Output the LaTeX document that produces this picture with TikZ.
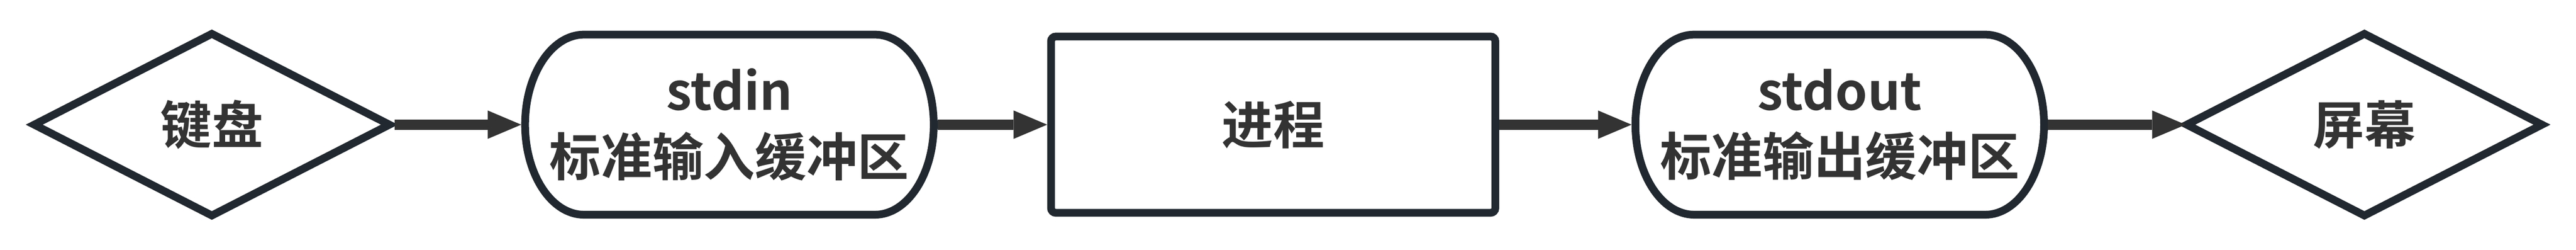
\documentclass[tikz,border=0pt]{standalone}
\usepackage{fontspec}
\usepackage{tikz}
\usetikzlibrary{shapes.geometric,arrows.meta}
\newfontfamily\cnfont{Noto Sans CJK SC}[BoldFont={Noto Sans CJK SC Bold}]
\definecolor{edgecol}{HTML}{21282F}
\definecolor{inkcol}{HTML}{333333}

\begin{document}
\begin{tikzpicture}[
  every node/.style={font=\cnfont\bfseries\fontsize{34}{43.5}\selectfont,text=inkcol,align=center},
  device/.style={diamond,draw=edgecol,line width=0.18cm,minimum width=8.34cm,minimum height=4.30cm,inner sep=0pt},
  buffer/.style={minimum width=9.69cm,minimum height=4.37cm,inner sep=0pt,outer sep=0pt},
  process/.style={rectangle,draw=edgecol,line width=0.18cm,rounded corners=0.11cm,minimum width=10.34cm,minimum height=4.10cm},
  outline/.style={draw=edgecol,line width=0.18cm},
  flow/.style={draw=inkcol,line width=0.24cm,-{Triangle[length=0.78cm,width=0.66cm,line width=0pt,fill=inkcol]}}
]
\useasboundingbox (0,0) rectangle (59.95,5.81);

% Devices and process
\node[device] (key) at (4.93,2.91) {键盘};
\node[process] (proc) at (29.63,2.91) {进程};
\node[device] (screen) at (55.025,2.91) {屏幕};

% Buffers
\node[buffer] (stdin) at (16.975,2.91) {stdin\\标准输入缓冲区};
\node[buffer] (stdout) at (42.815,2.91) {stdout\\标准输出缓冲区};
\foreach \buf in {stdin,stdout}{
\draw[outline] (\buf.north) ++(-3.385,-0.09) -- ++(6.77,0)
  arc[start angle=90,end angle=-90,x radius=1.37,y radius=2.095] -- ++(-6.77,0)
  arc[start angle=270,end angle=90,x radius=1.37,y radius=2.095] -- cycle;
}

% Arrows
\draw[flow] (key.east) -- (stdin.west);
\draw[flow] (stdin.east) -- (proc.west);
\draw[flow] (proc.east) -- (stdout.west);
\draw[flow,shorten >=-0.1cm] (stdout.east) -- (screen.west);

\end{tikzpicture}
\end{document}
